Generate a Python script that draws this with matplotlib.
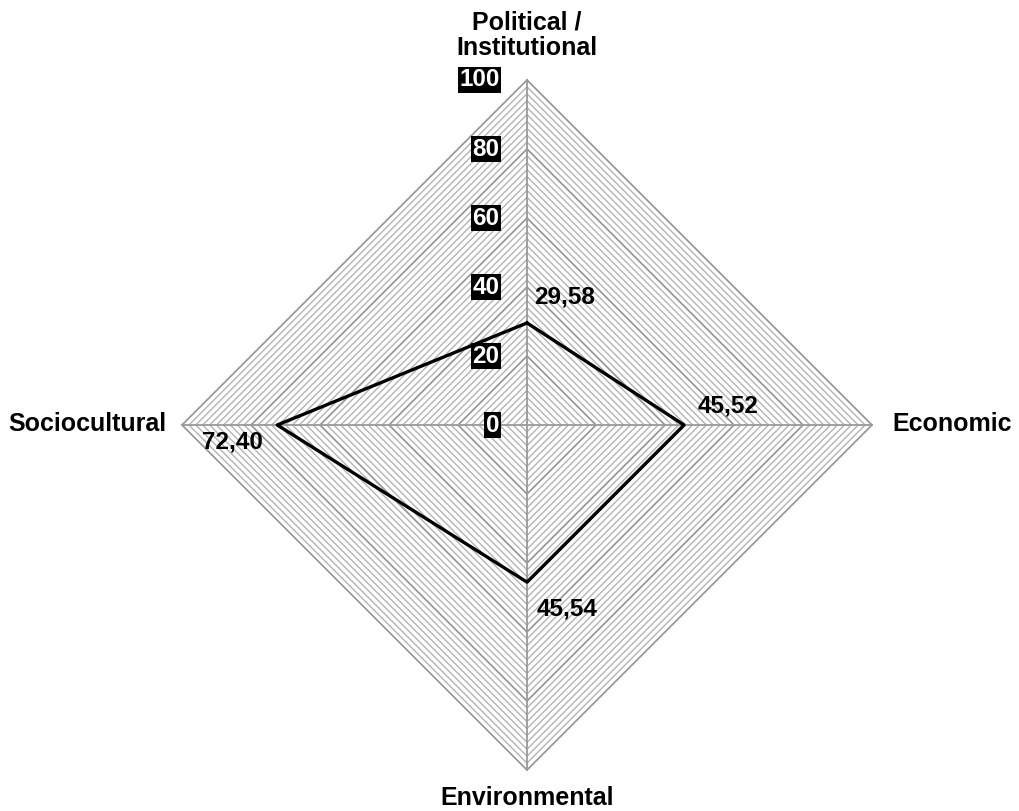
import matplotlib
matplotlib.use("Agg")
import matplotlib.pyplot as plt
import numpy as np

# axes go clockwise from the top
categories = ["Political /\nInstitutional", "Economic", "Environmental", "Sociocultural"]
values = [29.58, 45.52, 45.54, 72.40]
value_labels = ["29,58", "45,52", "45,54", "72,40"]
ticks = [0, 20, 40, 60, 80, 100]

plt.rcParams['font.family'] = ['Liberation Sans', 'DejaVu Sans']

angles = np.pi / 2 - np.arange(len(categories)) * 2 * np.pi / len(categories)


def to_xy(r):
    r = np.asarray(r, dtype=float)
    return r * np.cos(angles), r * np.sin(angles)


fig = plt.figure(figsize=(10.2, 8.11), dpi=100)
ax = fig.add_axes([0, 0, 1, 1])
scale = 3.45  # pixels per unit
ax.set_xlim(-527 / scale, (1020 - 527) / scale)
ax.set_ylim(-386 / scale, 425 / scale)
ax.axis("off")

# minor rings every 2 units
for r in range(2, 101, 2):
    x, y = to_xy([r] * 4)
    x = np.append(x, x[0])
    y = np.append(y, y[0])
    if r % 20 == 0:
        ax.plot(x, y, color="#999999", lw=1.3, zorder=2)
    else:
        ax.plot(x, y, color="#b3b3b3", lw=1.0, zorder=1)

# spokes
for a in angles:
    ax.plot([0, 100 * np.cos(a)], [0, 100 * np.sin(a)], color="#999999", lw=1.3, zorder=2)

# data polygon
x, y = to_xy(values)
ax.plot(np.append(x, x[0]), np.append(y, y[0]), color="black", lw=2.4, zorder=4)

# tick labels
for t in ticks:
    ax.text(-8.0, t, str(t), ha="right", va="center", color="white",
            fontsize=17.5, fontweight="bold", zorder=6,
            bbox=dict(facecolor="black", edgecolor="none", pad=1.0))

# value labels
offsets = [(27, 19), (32, 14), (29, -19), (-32, -12)]
for xi, yi, lab, off in zip(x, y, value_labels, offsets):
    ax.annotate(lab, (xi, yi), xytext=off, textcoords="offset points",
                ha="center", va="center", fontsize=17.5, fontweight="bold", zorder=6)

# category labels
ax.text(0, 113, categories[0], ha="center", va="center", fontsize=18,
        fontweight="bold", linespacing=1.05)
ax.text(123.2, 0.3, categories[1], ha="center", va="center", fontsize=18, fontweight="bold")
ax.text(0, -108, categories[2], ha="center", va="center", fontsize=18, fontweight="bold")
ax.text(-127.5, 0.3, categories[3], ha="center", va="center", fontsize=18, fontweight="bold")

fig.savefig("out.png", dpi=100)
